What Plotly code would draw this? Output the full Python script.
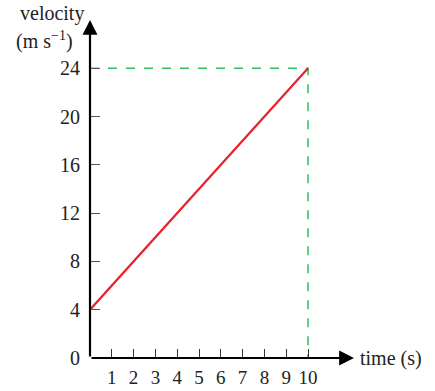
import plotly.graph_objects as go

# Uniform acceleration: velocity against time
time_s = [0, 10]
velocity = [4, 24]

x_ticks = [1, 2, 3, 4, 5, 6, 7, 8, 9, 10]
y_ticks = [0, 4, 8, 12, 16, 20, 24]

FONT = "Liberation Serif"
RED = "#e8202a"
GREEN = "#2fbf5f"
TXT = "#222"
FS = 20

x_max = 12.11
y_max = 28.0

fig = go.Figure()

# dashed guides to the final point
fig.add_trace(go.Scatter(
    x=[0, time_s[-1], time_s[-1]], y=[velocity[-1], velocity[-1], 0],
    mode="lines", line=dict(color=GREEN, width=1.5, dash="dash"),
    hoverinfo="skip", showlegend=False))

# velocity line
fig.add_trace(go.Scatter(
    x=time_s, y=velocity, mode="lines",
    line=dict(color=RED, width=2.2), showlegend=False))

# axes with arrowheads
for tip_x, tip_y in ((x_max, 0), (0, y_max)):
    fig.add_annotation(x=tip_x, y=tip_y, ax=0, ay=0, xref="x", yref="y",
                       axref="x", ayref="y", text="", showarrow=True,
                       arrowhead=2, arrowsize=1.35, arrowwidth=2.2,
                       arrowcolor="black")

# axis titles
fig.add_annotation(x=x_max, y=0, xref="x", yref="y", text="time (s)",
                   showarrow=False, xanchor="left", yanchor="middle",
                   xshift=4, font=dict(family=FONT, size=FS, color=TXT))
fig.add_annotation(x=0, y=y_max, xref="x", yref="y", text="velocity",
                   showarrow=False, xanchor="right", yanchor="top",
                   xshift=-4, yshift=20,
                   font=dict(family=FONT, size=FS, color=TXT))
fig.add_annotation(x=0, y=y_max, xref="x", yref="y",
                   text="(m s<sup>\u22121</sup>)",
                   showarrow=False, xanchor="right", yanchor="top",
                   xshift=-15, yshift=-6,
                   font=dict(family=FONT, size=FS, color=TXT))

fig.update_xaxes(range=[0, x_max], tickvals=x_ticks,
                 ticktext=[str(t) for t in x_ticks],
                 ticks="inside", ticklen=9, tickwidth=1.2, tickcolor="#333",
                 ticklabelstandoff=6, showgrid=False, zeroline=False,
                 showline=False, automargin=False,
                 tickfont=dict(family=FONT, size=19, color=TXT))
fig.update_yaxes(range=[0, y_max], tickvals=y_ticks,
                 ticktext=[str(t) for t in y_ticks],
                 ticks="inside", ticklen=10, tickwidth=1.2, tickcolor="#555",
                 ticklabelstandoff=9, showgrid=False, zeroline=False,
                 showline=False, automargin=False,
                 tickfont=dict(family=FONT, size=FS, color=TXT))

fig.update_layout(width=435, height=391,
                  margin=dict(l=90, r=81, t=20, b=33),
                  plot_bgcolor="white", paper_bgcolor="white")

fig.write_html("out.html")
